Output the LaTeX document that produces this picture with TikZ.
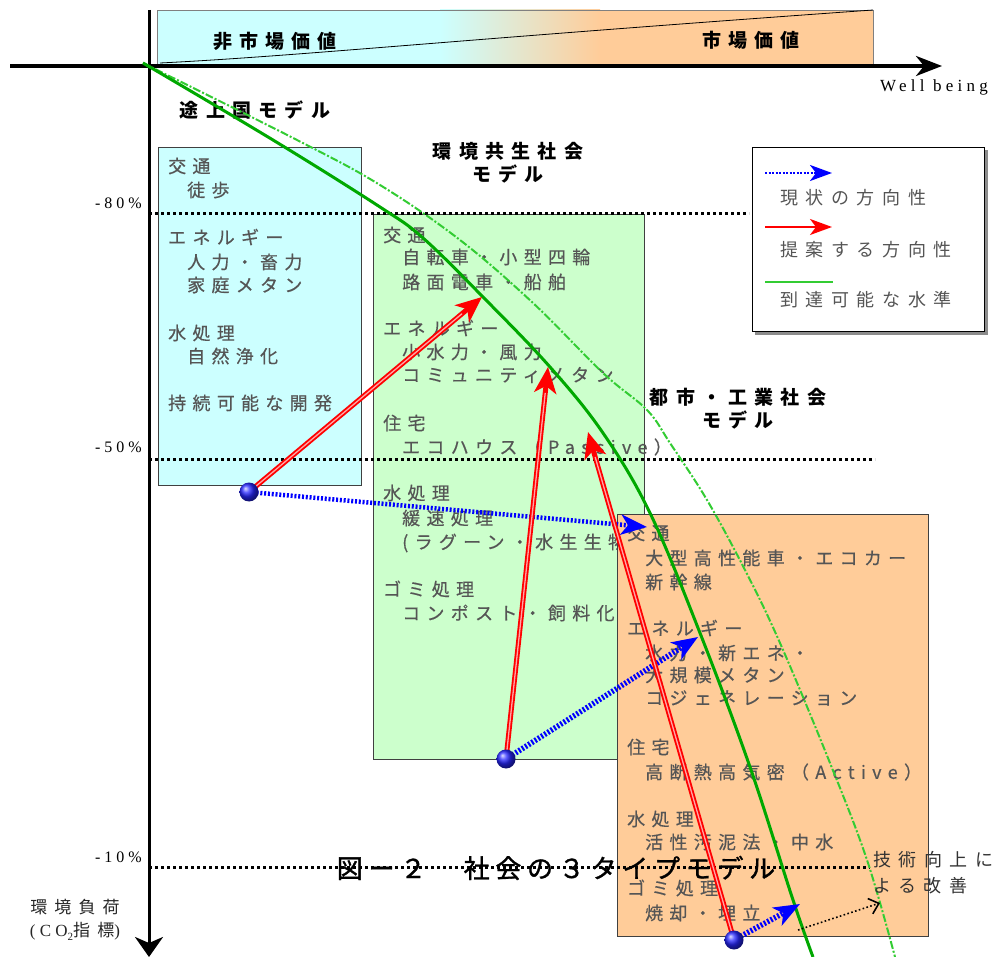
\documentclass[tikz,border=0pt]{standalone}
\usepackage{fontspec}
\setmainfont{Liberation Serif}
\newfontfamily\jpbox[LetterSpace=35,FakeBold=0.5]{Noto Sans CJK JP}
\newfontfamily\jphead[LetterSpace=38]{Noto Sans CJK JP}
\newfontfamily\jptitle[LetterSpace=22,FakeBold=1.2]{Noto Sans CJK JP}
\newfontfamily\jplab[LetterSpace=42]{Noto Sans CJK JP}
\newfontfamily\serifsp[LetterSpace=25]{Liberation Serif}
\usetikzlibrary{arrows.meta}
\definecolor{txtgray}{HTML}{555555}
\definecolor{cyanbox}{HTML}{CCFFFF}
\definecolor{greenbox}{HTML}{CCFFCC}
\definecolor{orangebox}{HTML}{FFCC99}
\definecolor{curvegreen}{HTML}{00A800}
\definecolor{dashgreen}{HTML}{33CC33}
\definecolor{arrred}{HTML}{FF0000}
\definecolor{arrblue}{HTML}{0000FF}
\begin{document}
\begin{tikzpicture}[x=1pt,y=-1pt,
  boxtxt/.style={anchor=west,inner sep=0pt,text=txtgray,font=\jpbox\fontsize{18}{20}\selectfont},
  headtxt/.style={inner sep=0pt,align=center,font=\jphead\bfseries\fontsize{19}{23}\selectfont},
  labtxt/.style={anchor=west,inner sep=0pt,text=txtgray,font=\jplab\fontsize{18}{20}\selectfont},
  pcttxt/.style={anchor=east,inner sep=0pt,font=\serifsp\fontsize{16}{18}\selectfont},
  axisline/.style={line width=3.5pt,-{Stealth[length=26pt,width=20pt,inset=8pt]}},
  dotline/.style={line width=3pt,dash pattern=on 3pt off 3pt},
  modelbox/.style={draw=black!75,line width=1pt},
  redarrow/.style={draw=arrred,line width=5pt,-{Stealth[length=26pt,width=22pt,inset=7pt]}},
  redshine/.style={draw=red!35!white,line width=1.3pt,shorten >=26pt},
  bluearrow/.style={draw=arrblue,line width=5.5pt,dash pattern=on 2pt off 1.8pt,-{Stealth[length=26pt,width=20pt,inset=7pt]}},
  bluedot/.style={circle,inner sep=0pt,minimum size=19pt,ball color=arrblue!85!white},
  solidcurve/.style={draw=curvegreen,line width=3pt},
  dashcurve/.style={draw=dashgreen,line width=2pt,dash pattern=on 8pt off 2pt on 2pt off 2pt},
]
\useasboundingbox (0,0) rectangle (999,957);
\fill[white] (0,0) rectangle (999,957);

% top bar
\fill[cyanbox] (157,10) rectangle (440,65);
\shade[left color=cyanbox,right color=orangebox] (440,10) rectangle (600,65);
\fill[orangebox] (600,10) rectangle (873,65);
\draw[black!50,line width=0.8pt] (157,65) -- (157,10) -- (873,10) -- (873,65);
\draw[black,line width=0.8pt] (160,63) .. controls (300,56) and (450,40) .. (873,10);
\node[headtxt] (nonmarket) at (275,41) {非市場価値};
\node[headtxt] (market) at (751,40) {市場価値};

% axes
\coordinate (hs) at (10,66);
\coordinate (he) at (942,66);
\coordinate (vs) at (149,10);
\coordinate (ve) at (149,957);
\draw[axisline] (hs) -- (he);
\draw[line width=3pt,-{Stealth[length=20pt,width=28pt,inset=6pt]}] (vs) -- (ve);
\node[anchor=west,inner sep=0pt,font=\serifsp\fontsize{17}{19}\selectfont] (wb) at (880,87) {Well being};

% model headings
\node[headtxt] (h1) at (255,110) {途上国モデル};
\node[headtxt] (h2) at (508,163) {環境共生社会\\モデル};
\node[headtxt] (h3) at (738,409) {都市・工業社会\\モデル};

% left box
\node[modelbox,fill=cyanbox,minimum width=203pt,minimum height=338pt,anchor=north west,inner sep=0pt] (boxL) at (158,147) {};
\node[boxtxt] (l1) at (168,166) {交通};
\node[boxtxt] (l2) at (187,190) {徒歩};
\node[boxtxt] (l3) at (168,237) {エネルギー};
\node[boxtxt] (l4) at (187,262) {人力・畜力};
\node[boxtxt] (l5) at (187,285) {家庭メタン};
\node[boxtxt] (l6) at (168,333) {水処理};
\node[boxtxt] (l7) at (187,356) {自然浄化};
\node[boxtxt] (l8) at (168,403) {持続可能な開発};

% middle box
\node[modelbox,fill=greenbox,minimum width=271pt,minimum height=545pt,anchor=north west,inner sep=0pt] (boxM) at (373,214) {};
\node[boxtxt] (m1) at (383,235) {交通};
\node[boxtxt] (m2) at (402,257) {自転車・小型四輪};
\node[boxtxt] (m3) at (402,282) {路面電車・船舶};
\node[boxtxt] (m4) at (383,328) {エネルギー};
\node[boxtxt] (m5) at (402,352) {小水力・風力};
\node[boxtxt] (m6) at (402,375) {コミュニティメタン};
\node[boxtxt] (m7) at (383,423) {住宅};
\node[boxtxt] (m8) at (402,447) {エコハウス（Passive）};
\node[boxtxt] (m9) at (383,493) {水処理};
\node[boxtxt] (m10) at (402,518) {緩速処理};
\node[boxtxt] (m11) at (402,543) {(ラグーン・水生生物};
\node[boxtxt] (m12) at (383,589) {ゴミ処理};
\node[boxtxt] (m13) at (402,613) {コンポスト・飼料化};

% right box
\node[modelbox,fill=orangebox,minimum width=311pt,minimum height=422pt,anchor=north west,inner sep=0pt] (boxR) at (617,514) {};
\node[boxtxt] (r1) at (627,533) {交通};
\node[boxtxt] (r2) at (645,558) {大型高性能車・エコカー};
\node[boxtxt] (r3) at (645,582) {新幹線};
\node[boxtxt] (r4) at (627,628) {エネルギー};
\node[boxtxt] (r5) at (645,653) {水力・新エネ・};
\node[boxtxt] (r6) at (645,675) {大規模メタン};
\node[boxtxt] (r7) at (645,698) {コジェネレーション};
\node[boxtxt] (r8) at (627,747) {住宅};
\node[boxtxt] (r9) at (645,772) {高断熱高気密（Active）};
\node[boxtxt] (r10) at (627,819) {水処理};
\node[boxtxt] (r11) at (645,842) {活性汚泥法・中水};
\node[boxtxt] (r12) at (627,888) {ゴミ処理};
\node[boxtxt] (r13) at (645,913) {焼却・埋立};

% level lines and labels
\coordinate (l80a) at (149,214); \coordinate (l80b) at (749,214);
\coordinate (l50a) at (149,460); \coordinate (l50b) at (875,460);
\coordinate (l10a) at (149,867); \coordinate (l10b) at (870,867);
\draw[dotline] (l80a) -- (l80b);
\draw[dotline] (l50a) -- (l50b);
\draw[dotline] (l10a) -- (l10b);
\node[pcttxt] (p80) at (142,203) {-80\%};
\node[pcttxt] (p50) at (142,447) {-50\%};
\node[pcttxt] (p10) at (142,857) {-10\%};
\node[inner sep=0pt,align=center,font=\jplab\fontsize{17}{23}\selectfont,text=black!85] (ylab) at (75,920) {環境負荷\\{\serifsp(CO}\raisebox{-0.35ex}{\serifsp\fontsize{11}{11}\selectfont 2}指標{\serifsp )}};

% title
\node[inner sep=0pt,font=\jptitle\fontsize{26}{28}\selectfont] (title) at (556,868) {図ー２　社会の３タイプモデル};

% reachable level curves
\draw[dashcurve] plot[smooth,tension=0.6] coordinates {(143,63) (297,140) (380,185) (460,240) (533,303) (603,373) (647,410) (670,443) (707,500) (745,570) (780,643) (830,763) (867,860) (895,957)};
\draw[solidcurve] plot[smooth,tension=0.6] coordinates {(143,63) (273,140) (380,207) (423,238) (483,297) (550,367) (603,433) (650,513) (700,633) (750,767) (793,900) (813,957)};

% arrows
\coordinate (d1) at (249,492);
\coordinate (d2) at (506,759);
\coordinate (d3) at (734,940);
\coordinate (t1) at (482,297);
\coordinate (t2) at (548,367);
\coordinate (t3) at (588,432);
\coordinate (b1) at (647,527);
\coordinate (b2) at (698,637);
\coordinate (b3) at (800,904);
\draw[bluearrow,line width=4.5pt] (d1) -- (b1);
\draw[bluearrow] (d2) -- (b2);
\draw[bluearrow] (d3) -- (b3);
\draw[redarrow] (d1) -- (t1);
\draw[redshine] (d1) -- (t1);
\draw[redarrow] (d2) -- (t2);
\draw[redshine] (d2) -- (t2);
\draw[redarrow] (d3) -- (t3);
\draw[redshine] (d3) -- (t3);
\node[bluedot] (dot1) at (d1) {};
\node[bluedot] (dot2) at (d2) {};
\node[bluedot] (dot3) at (d3) {};

% technology improvement
\coordinate (ts) at (798,930);
\coordinate (te) at (880,903);
\draw[line width=1.6pt,dash pattern=on 1.6pt off 2.4pt,-{Straight Barb[length=9pt,width=16pt,line width=1.6pt]}] (ts) -- (te);
\node[anchor=west,inner sep=0pt,align=left,text=black!80,font=\jplab\fontsize{18}{26}\selectfont] (tech) at (873,873) {技術向上に\\よる改善};

% legend
\fill[black!45] (755,150) rectangle (988,335);
\node[draw=black,line width=1pt,fill=white,minimum width=232pt,minimum height=184pt,anchor=north west,inner sep=0pt] (legend) at (752,147) {};
\coordinate (la1) at (765,173); \coordinate (lb1) at (832,173);
\coordinate (la2) at (765,227); \coordinate (lb2) at (832,227);
\coordinate (la3) at (765,282); \coordinate (lb3) at (833,282);
\draw[draw=arrblue,line width=2.5pt,dash pattern=on 2pt off 1.5pt,-{Stealth[length=22pt,width=16pt,inset=6pt]}] (la1) -- (lb1);
\draw[draw=arrred,line width=2pt,-{Stealth[length=22pt,width=16pt,inset=6pt]}] (la2) -- (lb2);
\draw[draw=dashgreen,line width=1.5pt] (la3) -- (lb3);
\node[labtxt] (lg1) at (780,198) {現状の方向性};
\node[labtxt] (lg2) at (780,250) {提案する方向性};
\node[labtxt] (lg3) at (780,300) {到達可能な水準};
\end{tikzpicture}
\end{document}
